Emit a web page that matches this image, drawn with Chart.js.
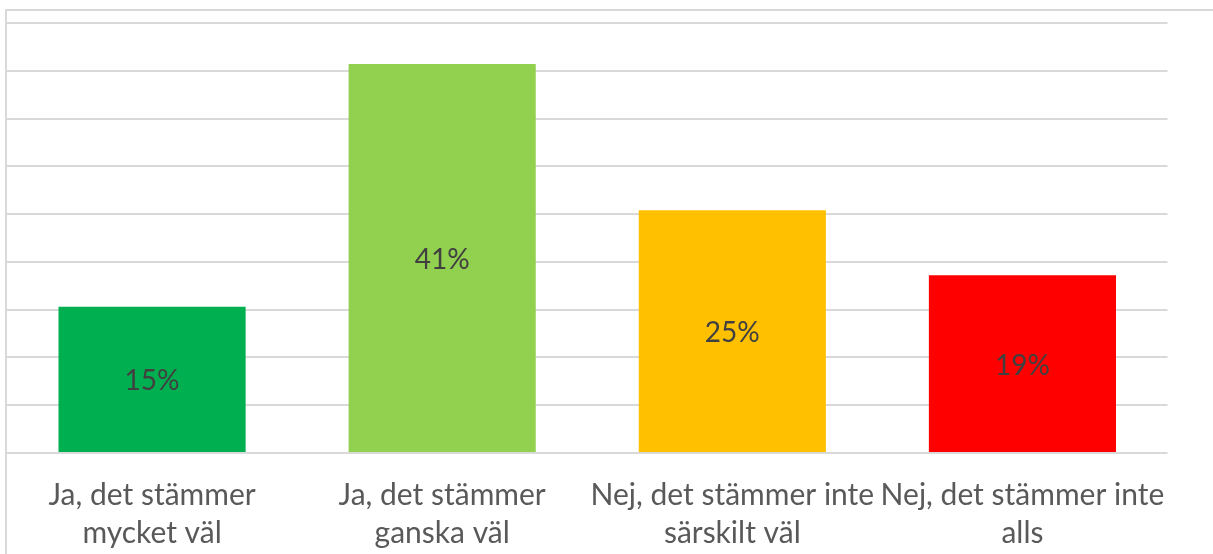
<!DOCTYPE html>
<html>
<head>
<meta charset="utf-8">
<script src="https://cdn.jsdelivr.net/npm/chart.js@4"></script>
<style>
  html, body { margin: 0; padding: 0; background: #fff; overflow: hidden; }
  #frame {
    position: absolute; left: 5px; top: 9px; width: 1206px; height: 543px;
    border-top: 2px solid #d9d9d9; border-left: 2px solid #d9d9d9;
  }
  #wrap { position: relative; width: 1206px; height: 543px; }
</style>
</head>
<body>
<div id="frame"><div id="wrap"><canvas id="c"></canvas></div></div>
<script>
const categories = [
  ["Ja, det stämmer", "mycket väl"],
  ["Ja, det stämmer", "ganska väl"],
  ["Nej, det stämmer inte", "särskilt väl"],
  ["Nej, det stämmer inte", "alls"]
];
const values = [15.3, 40.7, 25.4, 18.6];
const valueLabels = ["15%", "41%", "25%", "19%"];
const barColors = ["#00B050", "#92D050", "#FFC000", "#FF0000"];

const FONT = "Lato, 'Open Sans', sans-serif";

const centerLabels = {
  id: 'centerLabels',
  afterDatasetsDraw(chart) {
    const ctx = chart.ctx;
    const meta = chart.getDatasetMeta(0);
    ctx.save();
    ctx.font = "28px " + FONT;
    ctx.fillStyle = "#404040";
    ctx.textAlign = "center";
    ctx.textBaseline = "middle";
    meta.data.forEach((bar, i) => {
      const cy = (bar.y + bar.base) / 2 + 2;
      ctx.fillText(valueLabels[i], bar.x, cy);
    });
    ctx.restore();
  }
};

new Chart(document.getElementById('c'), {
  type: 'bar',
  data: {
    labels: categories,
    datasets: [{
      data: values,
      backgroundColor: barColors,
      borderWidth: 0,
      barPercentage: 0.645,
      categoryPercentage: 1.0
    }]
  },
  options: {
    responsive: true,
    maintainAspectRatio: false,
    animation: false,
    layout: { padding: { left: 0, right: 45.5, top: 12, bottom: -21 } },
    plugins: { legend: { display: false }, tooltip: { enabled: false } },
    scales: {
      x: {
        grid: { display: false, drawTicks: false },
        border: { display: false },
        ticks: {
          autoSkip: false, maxRotation: 0, minRotation: 0,
          padding: 23,
          color: "#595959",
          font: { family: FONT, size: 30, lineHeight: 38 / 30 }
        }
      },
      y: {
        min: 0, max: 45,
        grid: { color: "#d9d9d9", lineWidth: 2, drawTicks: false },
        border: { display: false },
        ticks: { display: false, stepSize: 5 }
      }
    }
  },
  plugins: [centerLabels]
});
</script>
</body>
</html>
